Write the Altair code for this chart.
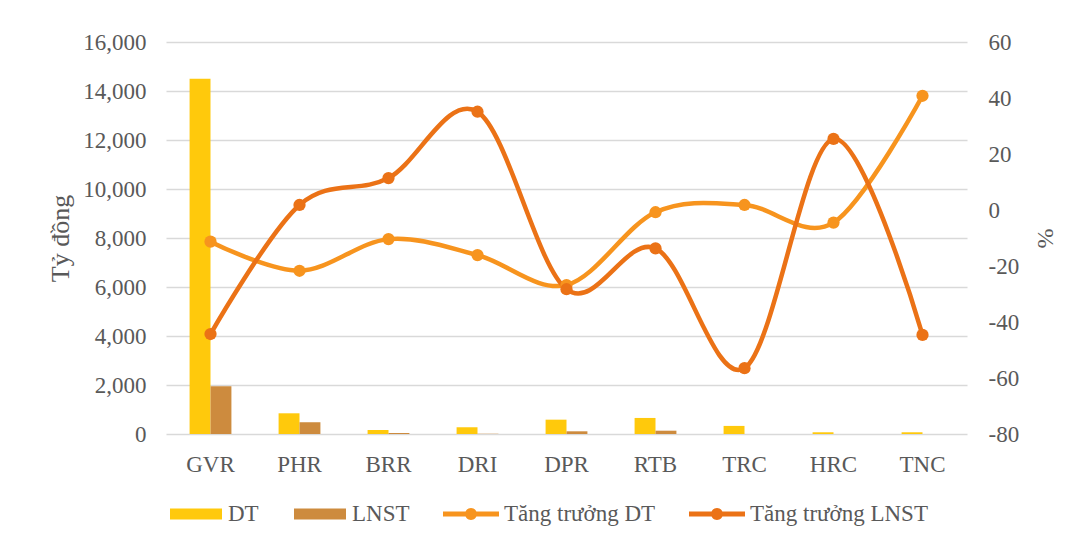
import altair as alt
import pandas as pd

companies = ["GVR", "PHR", "BRR", "DRI", "DPR", "RTB", "TRC", "HRC", "TNC"]
dt_values = [14500, 845, 160, 275, 585, 655, 330, 70, 70]
lnst_values = [1950, 480, 40, 10, 110, 135, 0, 0, 0]
growth_dt = [-11.3, -21.7, -10.4, -16.1, -26.8, -0.8, 1.8, -4.5, 40.8]
growth_lnst = [-44.3, 1.8, 11.4, 35.1, -28.3, -13.7, -56.5, 25.4, -44.6]

bar_series = ["DT", "LNST"]
line_series = ["Tăng trưởng DT", "Tăng trưởng LNST"]

df_bar = pd.DataFrame(
    [{"company": c, "series": "DT", "value": v} for c, v in zip(companies, dt_values)]
    + [{"company": c, "series": "LNST", "value": v} for c, v in zip(companies, lnst_values)]
)
df_line = pd.DataFrame(
    [{"company": c, "series": line_series[0], "value": v} for c, v in zip(companies, growth_dt)]
    + [{"company": c, "series": line_series[1], "value": v} for c, v in zip(companies, growth_lnst)]
)

FONT = "Liberation Serif"
GREY = "#595959"

x_enc = alt.X(
    "company:N",
    sort=companies,
    scale=alt.Scale(paddingInner=0.53, paddingOuter=0.265),
    axis=alt.Axis(title=None, labelAngle=0, domain=False, ticks=False,
                  labelPadding=19, labelFontSize=23),
)

bars = alt.Chart(df_bar).mark_bar().encode(
    x=x_enc,
    xOffset=alt.XOffset("series:N", scale=alt.Scale(domain=bar_series, paddingInner=0, paddingOuter=0)),
    y=alt.Y(
        "value:Q",
        scale=alt.Scale(domain=[0, 16000], nice=False),
        axis=alt.Axis(
            values=list(range(0, 16001, 2000)), format=",.0f", title="Tỷ đồng",
            domain=False, ticks=False, labelPadding=20, labelFontSize=23,
            grid=True, gridColor="#D9D9D9", gridWidth=1.5,
            titleFontSize=26, titleX=-106, titleY=196, titleBaseline="middle",
        ),
    ),
    fill=alt.Fill(
        "series:N",
        scale=alt.Scale(domain=bar_series, range=["#FFC90C", "#CD8B3E"]),
        legend=alt.Legend(
            title=None, orient="none", direction="horizontal",
            legendX=4, legendY=446,
            symbolType="M-1,-0.21H1V0.21H-1Z", symbolSize=2704,
            symbolStrokeWidth=0, labelOffset=6, columnPadding=35,
            labelFont=FONT, labelFontSize=23, labelColor=GREY, labelLimit=300,
        ),
    ),
)

y_right = alt.Y(
    "value:Q",
    scale=alt.Scale(domain=[-80, 60], nice=False, zero=False),
    axis=alt.Axis(
        orient="right", values=list(range(-80, 61, 20)), title="%",
        labelExpr="'' + datum.value",
        domain=False, ticks=False, grid=False, labelPadding=21, labelFontSize=23,
        titleFontSize=24, titleX=77, titleY=196, titleBaseline="middle",
    ),
)

color_scale = alt.Scale(domain=line_series, range=["#F7941E", "#EB7216"])

symbol_path = ("M-1,-0.09H1V0.09H-1Z "
               "M-0.214,0A0.214,0.214 0 1,1 0.214,0A0.214,0.214 0 1,1 -0.214,0Z")

line_legend = alt.Legend(
    title=None, orient="none", direction="horizontal",
    legendX=277, legendY=444,
    symbolType=symbol_path, symbolSize=3136, symbolStrokeWidth=0,
    labelOffset=5, columnPadding=33,
    labelFont=FONT, labelFontSize=23, labelColor=GREY, labelLimit=300,
)

lines = alt.Chart(df_line).mark_line(interpolate="cardinal", strokeWidth=4.5).encode(
    x=alt.X("company:N", sort=companies),
    y=y_right,
    color=alt.Color("series:N", scale=color_scale, legend=line_legend),
)

points = alt.Chart(df_line).mark_circle(size=150, opacity=1).encode(
    x=alt.X("company:N", sort=companies),
    y=y_right,
    color=alt.Color("series:N", scale=color_scale, legend=line_legend),
)

chart = alt.layer(bars, alt.layer(lines, points)).resolve_scale(
    y="independent"
).properties(
    width=801, height=392,
    autosize=alt.AutoSizeParams(type="none"),
    padding={"left": 158, "top": 34, "right": 100, "bottom": 100},
).configure_view(stroke=None).configure_axis(
    labelFont=FONT, labelColor=GREY, titleFont=FONT, titleColor=GREY,
    titleFontWeight="normal",
)

chart.save("out.html", embed_options={"renderer": "svg", "actions": False})
